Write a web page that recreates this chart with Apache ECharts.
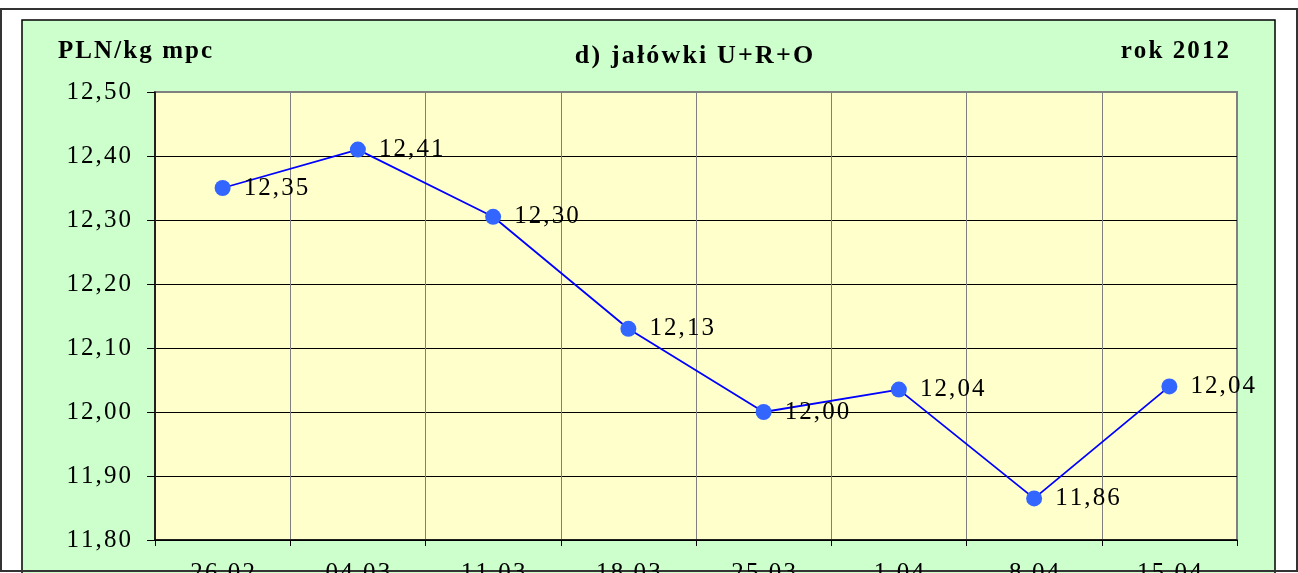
<!DOCTYPE html>
<html>
<head>
<meta charset="utf-8">
<script src="https://cdn.jsdelivr.net/npm/echarts@6/dist/echarts.min.js"></script>
<style>
html,body{margin:0;padding:0;background:#fff;}
#c{width:1298px;height:573px;}
</style>
</head>
<body>
<div id="c"></div>
<script>
const categories = ['26.02', '04.03', '11.03', '18.03', '25.03', '1.04', '8.04', '15.04'];
const prices = [12.35, 12.41, 12.305, 12.13, 12.00, 12.035, 11.865, 12.04];
const priceLabels = ['12,35', '12,41', '12,30', '12,13', '12,00', '12,04', '11,86', '12,04'];
const titleText = 'd) jałówki U+R+O';
const unitText = 'PLN/kg mpc';
const yearText = 'rok 2012';

const SP = '\u200A';
const spaced = s => s.split('').join(SP);
const FONT = '"Liberation Serif", "Times New Roman", serif';

const chart = echarts.init(document.getElementById('c'), null, {renderer: 'canvas'});
chart.setOption({
  animation: false,
  backgroundColor: '#ffffff',
  graphic: [
    {type: 'rect', z: -10, shape: {x: 22, y: 20, width: 1253, height: 560},
     style: {fill: '#CCFFCC', stroke: '#000', lineWidth: 1.5}},
    {type: 'rect', z: -5, shape: {x: 1, y: 9, width: 1296, height: 562},
     style: {fill: 'none', stroke: '#333', lineWidth: 2}},
    {type: 'text', x: 58, y: 52,
     style: {text: spaced(unitText), font: 'bold 25px ' + FONT, fill: '#000', align: 'left', verticalAlign: 'middle'}},
    {type: 'text', x: 1229, y: 52,
     style: {text: spaced(yearText), font: 'bold 25px ' + FONT, fill: '#000', align: 'right', verticalAlign: 'middle'}},
    {type: 'text', x: 694, y: 56,
     style: {text: spaced(titleText), font: 'bold 26px ' + FONT, fill: '#000', align: 'center', verticalAlign: 'middle'}}
  ],
  grid: {
    left: 155, top: 92, right: 61, bottom: 33,
    show: true, backgroundColor: '#FFFFCC', borderColor: '#808080', borderWidth: 2,
    outerBoundsMode: 'none', containLabel: false
  },
  xAxis: {
    type: 'category', data: categories, boundaryGap: true,
    axisLine: {show: true, lineStyle: {color: '#000', width: 1.5}},
    axisTick: {show: true, length: 6, alignWithLabel: false, lineStyle: {color: '#000'}},
    splitLine: {show: true, interval: 0, lineStyle: {color: '#808080', width: 1}},
    axisLabel: {interval: 0, margin: 21, color: '#000', fontFamily: FONT, fontSize: 25,
      formatter: v => spaced(v)}
  },
  yAxis: {
    type: 'value', min: 11.8, max: 12.5, interval: 0.1,
    axisLine: {show: true, lineStyle: {color: '#000', width: 1.5}},
    axisTick: {show: true, length: 8, lineStyle: {color: '#000'}},
    splitLine: {show: true, lineStyle: {color: ['#000','#000','#000','#000','#000','#000','#000','#808080'], width: 1}},
    axisLabel: {margin: 24, color: '#000', fontFamily: FONT, fontSize: 25,
      formatter: v => spaced(v.toFixed(2).replace('.', ','))}
  },
  series: [{
    type: 'line', data: prices,
    lineStyle: {color: '#0000FF', width: 1.8},
    symbol: 'circle', symbolSize: 16,
    itemStyle: {color: '#3366FF'},
    label: {show: true, position: 'right', distance: 13, color: '#000', fontFamily: FONT, fontSize: 25,
      formatter: p => spaced(priceLabels[p.dataIndex])}
  }]
});
</script>
</body>
</html>
